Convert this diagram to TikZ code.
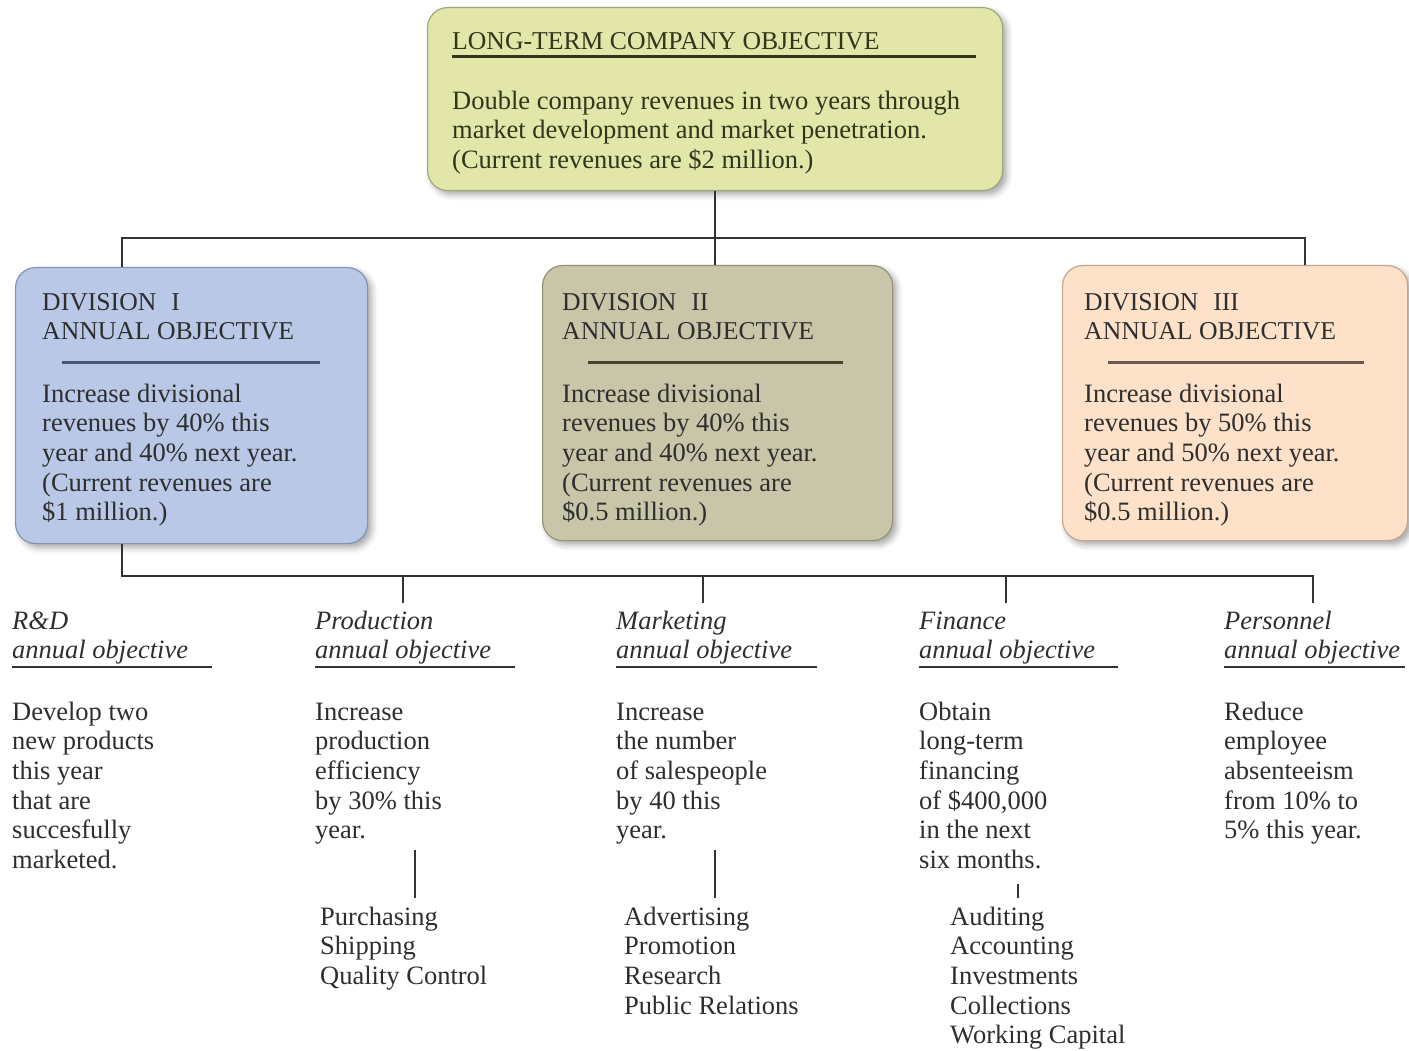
\documentclass[tikz,border=0pt]{standalone}
\usepackage{fontspec}
\setmainfont{Liberation Serif}
\usetikzlibrary{shadows.blur}

\definecolor{ink}{HTML}{2E2E2E}
\definecolor{olive}{HTML}{34341C}
\definecolor{lineclr}{HTML}{333333}
\definecolor{topfill}{HTML}{E2E6A8}
\definecolor{topedge}{HTML}{A3A57E}
\definecolor{bluefill}{HTML}{B8C8E6}
\definecolor{blueedge}{HTML}{8393B5}
\definecolor{bluerule}{HTML}{4A5672}
\definecolor{khakifill}{HTML}{C9C5A8}
\definecolor{khakiedge}{HTML}{96927A}
\definecolor{khakirule}{HTML}{45432F}
\definecolor{peachfill}{HTML}{FDE2C9}
\definecolor{peachedge}{HTML}{C4A690}
\definecolor{peachrule}{HTML}{6A5A50}

\newcommand\bodysize{\fontsize{26.5}{29.6}\selectfont}
\newcommand\capsize{\fontsize{25.7}{29.6}\selectfont}

\tikzset{
  objbox/.style={draw=#1, line width=1.2pt, rounded corners=20pt, anchor=north west,
    inner sep=0pt,
    blur shadow={shadow xshift=4pt, shadow yshift=-4pt, shadow blur radius=6pt, shadow opacity=35}},
  txt/.style={anchor=north west, inner sep=0pt, align=left, text=ink, font=\bodysize},
  captxt/.style={txt, font=\capsize},
  ittxt/.style={txt, font=\bodysize\itshape},
  conn/.style={draw=lineclr, line width=2.4pt},
  subconn/.style={draw=lineclr, line width=2.2pt},
  headrule/.style={line width=3pt},
  itrule/.style={draw=lineclr, line width=1.8pt},
}

\begin{document}
\begin{tikzpicture}[x=1pt, y=-1pt]
\useasboundingbox (0,0) rectangle (1409,1051);

% ---------- company objective ----------
\node[objbox=topedge, fill=topfill, minimum width=575pt, minimum height=183pt] (top) at (427,7) {};
\node[captxt, text=olive] (topT) at (452,28.3) {\strut LONG-TERM COMPANY OBJECTIVE};
\draw[headrule, olive] (452,57) -- (976,57);
\node[txt, text=olive] (topB) at (452,88.3)
  {\strut Double company revenues in two years through\\
   \strut market development and market penetration.\\
   \strut (Current revenues are \$2 million.)};

% ---------- division objectives ----------
\node[objbox=blueedge, fill=bluefill, minimum width=352pt, minimum height=276pt] (d1) at (15,267) {};
\node[objbox=khakiedge, fill=khakifill, minimum width=350pt, minimum height=275pt] (d2) at (542,265) {};
\node[objbox=peachedge, fill=peachfill, minimum width=345pt, minimum height=275pt] (d3) at (1062,265) {};

\node[captxt] (d1T) at (42,289.3) {\strut DIVISION\hspace{15pt}I\\ \strut ANNUAL OBJECTIVE};
\draw[headrule, bluerule] (62,362) -- (320,362);
\node[txt] (d1B) at (42,381.3)
  {\strut Increase divisional\\ \strut revenues by 40\% this\\ \strut year and 40\% next year.\\
   \strut (Current revenues are\\ \strut \$1 million.)};

\node[captxt] (d2T) at (562,289.3) {\strut DIVISION\hspace{15pt}II\\ \strut ANNUAL OBJECTIVE};
\draw[headrule, khakirule] (588,362) -- (843,362);
\node[txt] (d2B) at (562,381.3)
  {\strut Increase divisional\\ \strut revenues by 40\% this\\ \strut year and 40\% next year.\\
   \strut (Current revenues are\\ \strut \$0.5 million.)};

\node[captxt] (d3T) at (1084,289.3) {\strut DIVISION\hspace{15pt}III\\ \strut ANNUAL OBJECTIVE};
\draw[headrule, peachrule] (1108,362) -- (1364,362);
\node[txt] (d3B) at (1084,381.3)
  {\strut Increase divisional\\ \strut revenues by 50\% this\\ \strut year and 50\% next year.\\
   \strut (Current revenues are\\ \strut \$0.5 million.)};

% ---------- connectors: company to divisions ----------
\coordinate (hub) at (top.south |- 0,238);
\coordinate (jL) at (122,238);
\coordinate (jR) at (1305,238);
\draw[conn] (top.south) -- (hub);
\draw[conn] (jL |- d1.north) -- (jL) -- (jR) -- (jR |- d3.north);
\draw[conn] (hub) -- (hub |- d2.north);

% ---------- functional objectives ----------
\node[ittxt] (fRD)   at (12,608.3)   {\strut R\&D\\ \strut annual objective};
\node[ittxt] (fProd) at (315,608.3)  {\strut Production\\ \strut annual objective};
\node[ittxt] (fMkt)  at (616,608.3)  {\strut Marketing\\ \strut annual objective};
\node[ittxt] (fFin)  at (919,608.3)  {\strut Finance\\ \strut annual objective};
\node[ittxt] (fPers) at (1224,608.3) {\strut Personnel\\ \strut annual objective};

\draw[itrule] (12,667) -- (212,667);
\draw[itrule] (315,667) -- (515,667);
\draw[itrule] (616,667) -- (817,667);
\draw[itrule] (919,667) -- (1118,667);
\draw[itrule] (1224,667) -- (1405,667);

\node[txt] (bRD) at (12,699.3)
  {\strut Develop two\\ \strut new products\\ \strut this year\\ \strut that are\\ \strut succesfully\\ \strut marketed.};
\node[txt] (bProd) at (315,699.3)
  {\strut Increase\\ \strut production\\ \strut efficiency\\ \strut by 30\% this\\ \strut year.};
\node[txt] (bMkt) at (616,699.3)
  {\strut Increase\\ \strut the number\\ \strut of salespeople\\ \strut by 40 this\\ \strut year.};
\node[txt] (bFin) at (919,699.3)
  {\strut Obtain\\ \strut long-term\\ \strut financing\\ \strut of \$400,000\\ \strut in the next\\ \strut six months.};
\node[txt] (bPers) at (1224,699.3)
  {\strut Reduce\\ \strut employee\\ \strut absenteeism\\ \strut from 10\% to\\ \strut 5\% this year.};

\node[txt] (sProd) at (320,904.3)
  {\strut Purchasing\\ \strut Shipping\\ \strut Quality Control};
\node[txt] (sMkt) at (624,904.3)
  {\strut Advertising\\ \strut Promotion\\ \strut Research\\ \strut Public Relations};
\node[txt] (sFin) at (950,904.3)
  {\strut Auditing\\ \strut Accounting\\ \strut Investments\\ \strut Collections\\ \strut Working Capital};

% ---------- connectors: division I to functions ----------
\coordinate (bus) at (122,576);
\coordinate (busR) at (1313,576);
\coordinate (tProd) at (403,603);
\coordinate (tMkt) at (703,603);
\coordinate (tFin) at (1006,603);
\coordinate (tPers) at (1313,603);
\draw[conn] (d1.south -| bus) -- (bus) -- (busR) -- (tPers);
\draw[conn] (tProd |- bus) -- (tProd);
\draw[conn] (tMkt |- bus) -- (tMkt);
\draw[conn] (tFin |- bus) -- (tFin);

% ---------- connectors: functions to their departments ----------
\coordinate (uProd) at (415,850);
\coordinate (uMkt) at (715,850);
\coordinate (uFin) at (1018,884);
\draw[subconn] (uProd) -- (uProd |- 0,898);
\draw[subconn] (uMkt) -- (uMkt |- 0,898);
\draw[subconn] (uFin) -- (uFin |- 0,898);
\end{tikzpicture}
\end{document}
